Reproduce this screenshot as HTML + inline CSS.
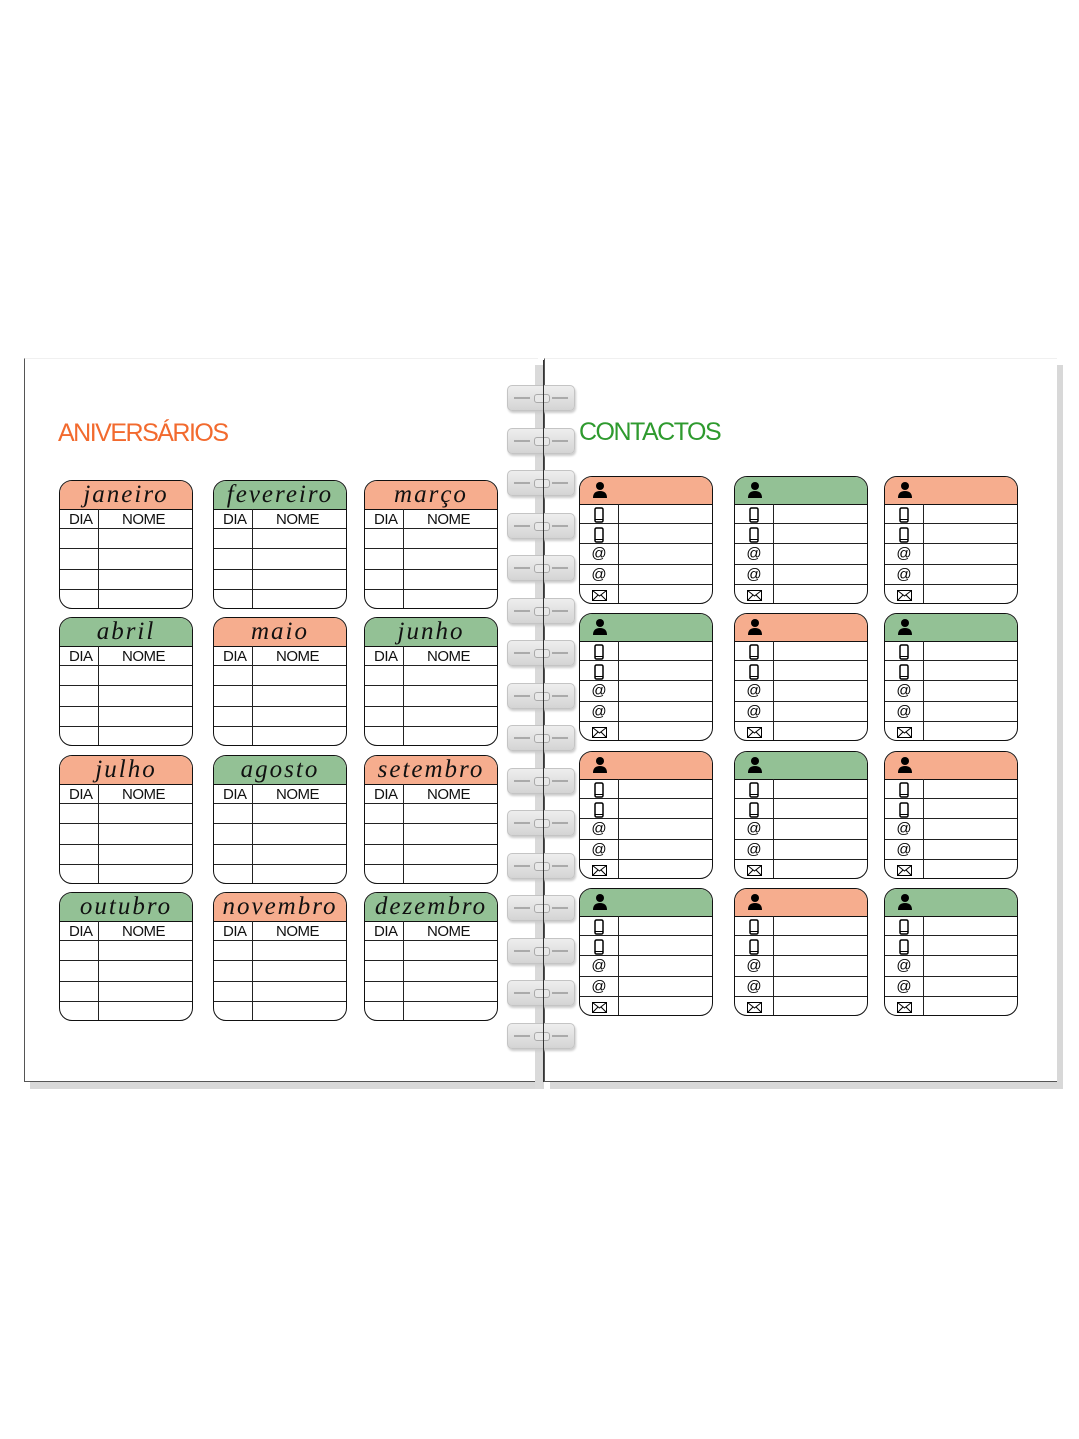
<!DOCTYPE html>
<html><head><meta charset="utf-8">
<style>
body{margin:0;width:1079px;height:1439px;background:#fff;position:relative;overflow:hidden;font-family:"Liberation Sans",sans-serif}
.a{position:absolute;box-sizing:border-box}
.page{background:#fff;border-left:1px solid #555;border-bottom:1px solid #555;box-shadow:6px 7px 0 #d8d8d8}
.card{border:1.5px solid #111;border-radius:13px;overflow:hidden;background:#fff}
.hd{position:absolute;left:0;right:0;top:0;border-bottom:1.5px solid #111;text-align:center;font-family:"Liberation Serif",serif;font-style:italic;font-size:25px;line-height:28px;color:#111;letter-spacing:2px}
.hl{position:absolute;left:0;right:0;height:1.2px;background:#222}
.vl{position:absolute;width:1.2px;background:#222;bottom:0}
.lb{position:absolute;font-size:15px;color:#111;line-height:21px;letter-spacing:-0.5px}
.ic{position:absolute;font-size:15px;text-align:center;width:38px;line-height:20px}
.ring{position:absolute;left:507px;width:66px;height:24px;background:linear-gradient(#eee,#d4d4d4);border:1px solid #c4c4c4;border-radius:5px;box-shadow:1px 2px 2px #ccc}
.ring i{position:absolute;top:11px;height:2px;background:#aaa}
.ring b{position:absolute;left:26px;top:8px;width:14px;height:7px;border:1px solid #aaa;border-radius:3px;background:#e8e8e8}
</style></head><body>
<div class="a page" style="left:24px;top:358px;width:514px;height:724px;border-top:1px solid #f0f0f0"></div>
<div class="a page" style="left:544px;top:358px;width:513px;height:724px;border-top:1px solid #f0f0f0"></div>
<div class="a" style="left:535px;top:365px;width:7px;height:724px;background:#dadada"></div>
<div class="a" style="left:58px;top:419px;font-size:25px;color:#f26a2e;letter-spacing:-1.5px">ANIVERSÁRIOS</div>
<div class="a" style="left:579px;top:418px;font-size:25px;color:#2e9a2e;letter-spacing:-1.5px">CONTACTOS</div>
<div id="c"></div>
<script>
var S='#f6ad8e',G='#93c195',h='';
var months=['janeiro','fevereiro','março','abril','maio','junho','julho','agosto','setembro','outubro','novembro','dezembro'];
var bx=[59,213,364],by=[480,617,755,892];
for(var r=0;r<4;r++)for(var c=0;c<3;c++){
 var col=((r+c)%2==0)?S:G;
 h+='<div class="a card" style="left:'+bx[c]+'px;top:'+by[r]+'px;width:134px;height:129px">'+
 '<div class="hd" style="height:28px;background:'+col+'">'+months[r*3+c]+'</div>'+
 '<div class="vl" style="left:38px;top:28px"></div>';
 [47,67,88,108].forEach(function(y){h+='<div class="hl" style="top:'+y+'px"></div>'});
 h+='<div class="lb" style="left:9px;top:28px">DIA</div><div class="lb" style="left:62px;top:28px">NOME</div></div>';
}
var cx=[579,734,884],cy=[476,613,751,888];
var person='<svg width="16" height="18" viewBox="0 0 16 18" style="position:absolute;left:12px;top:4px"><circle cx="8" cy="5" r="4" fill="#000"/><path d="M1 17 Q1 10 8 10 Q15 10 15 17Z" fill="#000"/></svg>';
var phone='<svg width="10" height="16" viewBox="0 0 10 16"><rect x="1" y="1" width="8" height="14" rx="1.5" fill="none" stroke="#000" stroke-width="1.5"/><line x1="1" y1="12.5" x2="9" y2="12.5" stroke="#000"/></svg>';
var mail='<svg width="15" height="11" viewBox="0 0 15 11"><rect x=".5" y=".5" width="14" height="10" fill="none" stroke="#000"/><path d="M.5 .5L7.5 6L14.5 .5M.5 10.5L6 5M14.5 10.5L9 5" fill="none" stroke="#000"/></svg>';
for(var r=0;r<4;r++)for(var c=0;c<3;c++){
 var col=((r+c)%2==0)?S:G;
 h+='<div class="a card" style="left:'+cx[c]+'px;top:'+cy[r]+'px;width:134px;height:128px">'+
 '<div class="hd" style="height:27px;background:'+col+'">'+person+'</div>'+
 '<div class="vl" style="left:38px;top:27px"></div>';
 [46,66,87,107].forEach(function(y){h+='<div class="hl" style="top:'+y+'px"></div>'});
 var icons=[phone,phone,'@','@',mail],ys=[27,47,67,88,108];
 for(var k=0;k<5;k++)h+='<div class="ic" style="left:0;top:'+(ys[k]+(k<2?1:0))+'px;height:20px;display:flex;align-items:center;justify-content:center">'+icons[k]+'</div>';
 h+='</div>';
}
for(var i=0;i<16;i++){
 var y=385+i*42.5;
 h+='<div class="ring" style="top:'+y+'px"><i style="left:6px;width:16px"></i><i style="left:44px;width:16px"></i><b></b></div>';
}
h+='<div class="a" style="left:543px;top:360px;width:1px;height:722px;background:#333"></div>';
document.getElementById('c').innerHTML=h;
</script>
</body></html>
